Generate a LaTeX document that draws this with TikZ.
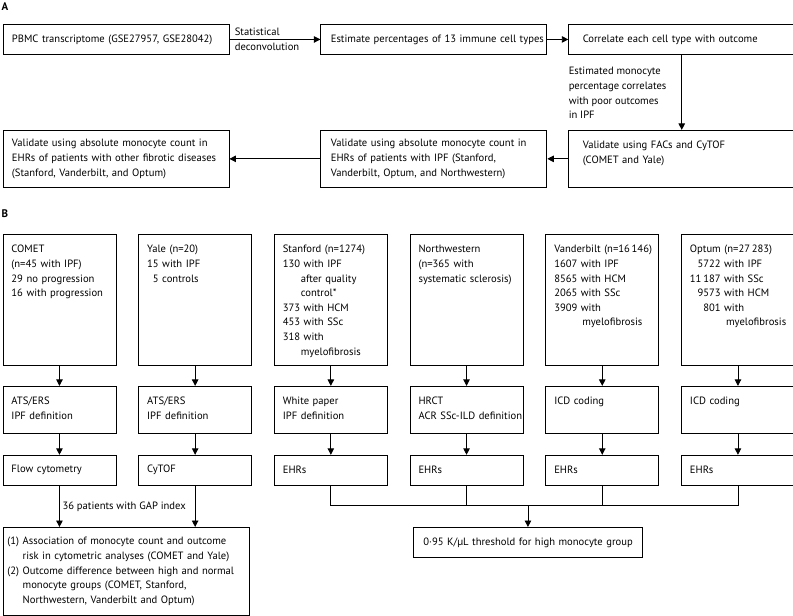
\documentclass[tikz,border=0pt]{standalone}
\usepackage{fontspec}
\setmainfont{PT Sans}
\usepackage{tikz}
\usetikzlibrary{arrows.meta,positioning}
\tikzstyle{flowbox}=[rectangle,draw=black,line width=0.9pt,anchor=north west,align=left,inner ysep=0pt]
\tikzstyle{widebox}=[flowbox,minimum width=226pt,inner xsep=9pt,text width=208pt]
\tikzstyle{colbox}=[flowbox,minimum width=113pt,inner xsep=8.5pt,text width=96pt]
\tikzstyle{note}=[align=left,inner sep=0pt]
\tikzstyle{panel}=[font=\fontsize{11}{12}\selectfont\bfseries,inner sep=0pt]
\tikzset{topalign/.style={text height=18.5pt,text depth=#1}}

\begin{document}
\begin{tikzpicture}[x=1pt,y=-1pt,>={Triangle[length=6.5pt,width=6.5pt]},line width=0.9pt,font=\fontsize{10.6}{14.6}\selectfont]
\useasboundingbox (0,0) rectangle (793,616);
% panel A
\node[panel] (pa) at (5,6.7) {A};
\node[widebox,minimum height=30pt] (pbmc) at (2.5,24) {\mbox{PBMC transcriptome (GSE27957, GSE28042)}};
\node[widebox,minimum height=30pt,right=91pt of pbmc,inner xsep=10pt,text width=206pt] (est) {\mbox{Estimate percentages of 13 immune cell types}};
\node[widebox,minimum height=30pt,right=21pt of est,inner xsep=14pt,text width=198pt] (corr) {\mbox{Correlate each cell type with outcome}};
\node[widebox,topalign=38.5pt,below=75pt of corr,inner xsep=14pt,text width=198pt] (facs) {\mbox{Validate using FACs and CyTOF}\\(COMET and  Yale)};
\node[widebox,minimum height=57pt,left=21pt of facs,inner xsep=10pt,text width=206pt] (valipf) {\mbox{Validate using absolute monocyte count in}\\EHRs of patients with IPF (Stanford,\\\mbox{Vanderbilt, Optum, and Northwestern)}};
\node[widebox,minimum height=57pt,left=91pt of valipf] (valoth) {\mbox{Validate using absolute monocyte count in}\\\mbox{EHRs of patients with other fibrotic diseases}\\(Stanford, Vanderbilt, and Optum)};
\draw[->] (pbmc) -- node[note,anchor=west,pos=0,xshift=5pt] {Statistical\\deconvolution} (est);
\draw[->] (est) -- (corr);
\draw[->] (corr) -- (facs);
\node[note,anchor=north west] (mono) at ([yshift=-12pt]corr.south west) {Estimated monocyte\\percentage correlates\\with poor outcomes\\in IPF};
\draw[->] (facs) -- (valipf);
\draw[->] (valipf) -- (valoth);
% panel B
\node[panel] (pb) at (5,213.3) {B};
\node[colbox,topalign=112.5pt] (comet) at (2.5,234) {COMET\\(n=45 with IPF)\\29 no progression\\\mbox{16 with progression}};
\node[colbox,topalign=112.5pt,right=21.8pt of comet] (yale) {Yale (n=20)\\15 with IPF\\\phantom{1}5 controls};
\node[colbox,topalign=112.5pt,right=21.8pt of yale] (stan) {\mbox{Stanford (n=1274)}\\130 with IPF\\\hspace*{18pt}after quality\\\hspace*{18pt}control*\\373 with HCM\\453 with SSc\\318 with\\\hspace*{18pt}myelofibrosis};
\node[colbox,topalign=112.5pt,right=21.8pt of stan] (nw) {Northwestern\\(n=365 with\\\mbox{systematic sclerosis)}};
\node[colbox,topalign=112.5pt,right=21.8pt of nw] (vand) {\mbox{Vanderbilt (n=16\,146)}\\1607 with IPF\\8565 with HCM\\2065 with SSc\\3909 with\\\hspace*{28pt}myelofibrosis};
\node[colbox,topalign=112.5pt,right=21.8pt of vand] (opt) {\begin{tabular}[t]{@{}r@{\ }l@{}}\multicolumn{2}{@{}l@{}}{Optum (n=27\,283)}\\5722 & with IPF\\11\,187 & with SSc\\9573 & with HCM\\801 & with\\ & \hspace{2pt}myelofibrosis\end{tabular}};
% definitions
\node[colbox,topalign=28.5pt,below=20pt of comet] (atsc) {ATS/ERS\\IPF definition};
\node[colbox,topalign=28.5pt,below=20pt of yale] (atsy) {ATS/ERS\\IPF definition};
\node[colbox,topalign=28.5pt,below=20pt of stan] (white) {White paper\\IPF definition};
\node[colbox,topalign=28.5pt,below=20pt of nw] (hrct) {HRCT\\\mbox{ACR SSc-ILD definition}};
\node[colbox,topalign=28.5pt,below=20pt of vand] (icdv) {ICD coding};
\node[colbox,topalign=28.5pt,below=20pt of opt] (icdo) {ICD coding};
% measurements
\node[colbox,minimum height=30pt,below=21pt of atsc] (flow) {Flow cytometry};
\node[colbox,minimum height=30pt,below=21pt of atsy] (cytof) {CyTOF};
\node[colbox,minimum height=30pt,below=21pt of white] (ehrs) {EHRs};
\node[colbox,minimum height=30pt,below=21pt of hrct] (ehrn) {EHRs};
\node[colbox,minimum height=30pt,below=21pt of icdv] (ehrv) {EHRs};
\node[colbox,minimum height=30pt,below=21pt of icdo] (ehro) {EHRs};
% outcomes
\node[flowbox,minimum width=246pt,minimum height=87.5pt,inner xsep=4.5pt,text width=237pt] (assoc) at (2.5,527) {\begin{tabular}{@{}l@{\ }l@{}}(1) & Association of monocyte count and outcome\\ & risk in cytometric analyses (COMET and Yale)\\(2) & Outcome difference between high and normal\\ & monocyte groups (COMET, Stanford,\\ & Northwestern, Vanderbilt and Optum)\end{tabular}};
\node[flowbox,minimum width=229pt,minimum height=30pt,inner xsep=10pt,text width=209pt] (thr) at (413,527) {\mbox{0·95 K/µL threshold for high monocyte group}};
\draw[->] (comet) -- (atsc);
\draw[->] (yale) -- (atsy);
\draw[->] (stan) -- (white);
\draw[->] (nw) -- (hrct);
\draw[->] (vand) -- (icdv);
\draw[->] (opt) -- (icdo);
\draw[->] (atsc) -- (flow);
\draw[->] (atsy) -- (cytof);
\draw[->] (white) -- (ehrs);
\draw[->] (hrct) -- (ehrn);
\draw[->] (icdv) -- (ehrv);
\draw[->] (icdo) -- (ehro);
\draw[->] (flow) -- node[note,right,xshift=2.7pt] {36 patients with GAP index} (flow |- assoc.north);
\draw[->] (cytof) -- (cytof |- assoc.north);
\coordinate (join) at ([yshift=22pt]thr.north);
\draw (ehrs) |- (ehro |- join) -- (ehro);
\draw (ehrn) -- (ehrn |- join);
\draw (ehrv) -- (ehrv |- join);
\draw[->] (join) -- (thr);
\end{tikzpicture}
\end{document}
